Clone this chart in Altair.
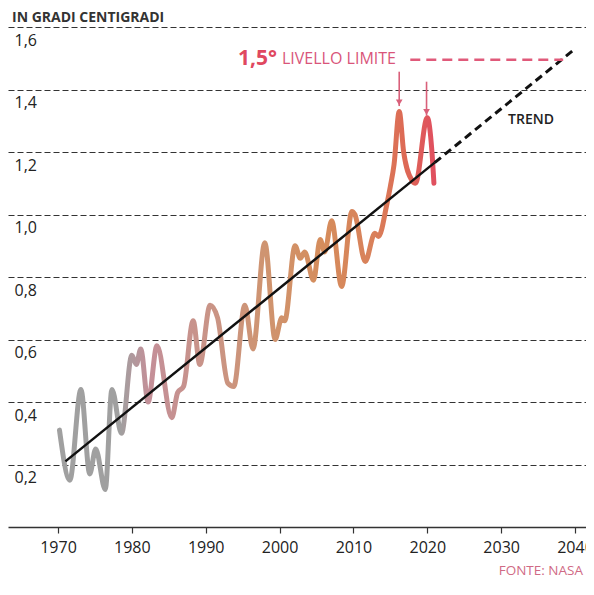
import altair as alt
import pandas as pd

# ---- data ----
years = [1970.2, 1971.6, 1973.1, 1974.3, 1975.1, 1976.4, 1977.3, 1978.6, 1980.0, 1980.6,
         1981.2, 1982.2, 1983.4, 1985.4, 1986.2, 1987.0, 1988.3, 1989.2, 1990.6, 1991.6,
         1993.0, 1993.8, 1995.3, 1996.4, 1998.0, 1999.4, 2000.3, 2000.7, 2002.1, 2002.8,
         2003.4, 2004.6, 2005.5, 2006.1, 2007.05, 2008.4, 2009.8, 2010.2, 2011.6, 2012.9,
         2013.4, 2014.5, 2015.0, 2015.5, 2016.2, 2016.8, 2017.9, 2018.4, 2020.0, 2020.6, 2020.9]
temps = [0.31, 0.15, 0.44, 0.17, 0.25, 0.12, 0.44, 0.30, 0.55, 0.52,
         0.57, 0.40, 0.58, 0.35, 0.43, 0.45, 0.66, 0.52, 0.71, 0.67,
         0.46, 0.45, 0.71, 0.57, 0.91, 0.60, 0.67, 0.66, 0.90, 0.86,
         0.88, 0.79, 0.92, 0.88, 0.98, 0.77, 1.01, 1.00, 0.85, 0.94,
         0.93, 1.03, 1.09, 1.16, 1.33, 1.20, 1.11, 1.10, 1.31, 1.21, 1.10]

trend_solid_years = [1971, 2021]
trend_solid_vals = [0.21, 1.166]
trend_dash_years = [2021, 2040]
trend_dash_vals = [1.166, 1.53]

limit_years = [2017.7, 2038.4]
limit_vals = [1.495, 1.495]

arrow_years = [2016.2, 2019.9]
arrow_tops = [1.457, 1.425]
arrow_tips = [1.347, 1.316]

x_ticks = [1970, 1980, 1990, 2000, 2010, 2020, 2030, 2040]
y_ticks = [0.2, 0.4, 0.6, 0.8, 1.0, 1.2, 1.4, 1.6]

FONT = "Open Sans"
PLOT_H = 500

xs = alt.Scale(domain=[1963.23, 2041.49], nice=False, zero=False)
ys = alt.Scale(domain=[0, 1.6], nice=False, zero=False)

x_axis = alt.Axis(values=x_ticks, format="d", title=None, grid=False,
                  labelFont=FONT, labelFontSize=16, labelColor="#222",
                  domainColor="#333", domainWidth=1.5, tickColor="#333",
                  tickSize=6, tickWidth=1.2, labelPadding=6)
y_axis = alt.Axis(values=y_ticks, title=None, grid=True, gridDash=[6, 3],
                  gridColor="#333", gridWidth=1.2, domain=False, ticks=False,
                  tickSize=0, labelAlign="left", labelPadding=-6,
                  labelBaseline="alphabetic", labelOffset=18, labelFont=FONT,
                  labelFontSize=16, labelColor="#222",
                  labelExpr="replace(format(datum.value, '.1f'), '.', ',')")

X = alt.X("year:Q", scale=xs, axis=x_axis)
Y = alt.Y("val:Q", scale=ys, axis=y_axis)

temp_df = pd.DataFrame({"year": years, "val": temps})
trend_solid_df = pd.DataFrame({"year": trend_solid_years, "val": trend_solid_vals})
trend_dash_df = pd.DataFrame({"year": trend_dash_years, "val": trend_dash_vals})
limit_df = pd.DataFrame({"year": limit_years, "val": limit_vals})
arrow_df = pd.DataFrame({"year": arrow_years, "val": arrow_tops, "val2": arrow_tips,
                         "head": [t + 0.012 for t in arrow_tips]})

grad = alt.Gradient(
    gradient="linear", x1=0, x2=1, y1=0, y2=0,
    stops=[
        alt.GradientStop(color="#a0a0a0", offset=0.0),
        alt.GradientStop(color="#a0a0a0", offset=0.16),
        alt.GradientStop(color="#c48f98", offset=0.24),
        alt.GradientStop(color="#c99487", offset=0.40),
        alt.GradientStop(color="#cf9470", offset=0.55),
        alt.GradientStop(color="#d58d5c", offset=0.70),
        alt.GradientStop(color="#d9805a", offset=0.84),
        alt.GradientStop(color="#dd6a55", offset=0.92),
        alt.GradientStop(color="#e0505f", offset=1.0),
    ],
)

temp_line = alt.Chart(temp_df).mark_line(
    stroke=grad, strokeWidth=5, interpolate="monotone", strokeCap="round", strokeJoin="round"
).encode(x=X, y=Y)

trend_solid = alt.Chart(trend_solid_df).mark_line(color="#111", strokeWidth=2.5).encode(x=X, y=Y)
trend_dash = alt.Chart(trend_dash_df).mark_line(color="#111", strokeWidth=3, strokeDash=[8, 5]).encode(x=X, y=Y)

limit_line = alt.Chart(limit_df).mark_line(color="#e05a7a", strokeWidth=2.5, strokeDash=[10, 6]).encode(x=X, y=Y)

arrow_rules = alt.Chart(arrow_df).mark_rule(color="#d9607a", strokeWidth=1.6).encode(
    x=X, y=Y, y2="val2:Q")
arrow_heads = alt.Chart(arrow_df).mark_point(
    shape="triangle-down", filled=True, color="#d9607a", size=45, opacity=1
).encode(x=X, y=alt.Y("head:Q", scale=ys, axis=y_axis))

lbl15 = alt.Chart(pd.DataFrame({"year": [1994.37], "val": [1.479], "t": ["1,5°"]})).mark_text(
    align="left", baseline="alphabetic", font=FONT, fontSize=21, fontWeight="bold", color="#e0485f"
).encode(x=X, y=Y, text="t:N")
lbl_lim = alt.Chart(pd.DataFrame({"year": [2000.33], "val": [1.482], "t": ["LIVELLO LIMITE"]})).mark_text(
    align="left", baseline="alphabetic", font=FONT, fontSize=16, color="#d9557a"
).encode(x=X, y=Y, text="t:N")
lbl_trend = alt.Chart(pd.DataFrame({"year": [2034.04], "val": [1.303], "t": ["TREND"]})).mark_text(
    align="center", baseline="middle", font=FONT, fontSize=14, fontWeight=600, color="#222"
).encode(x=X, y=Y, text="t:N")

title = alt.Chart(pd.DataFrame({"t": ["IN GRADI CENTIGRADI"]})).mark_text(
    align="left", baseline="alphabetic", font=FONT, fontSize=14, fontWeight="bold", color="#333"
).encode(x=alt.value(4), y=alt.value(-5), text="t:N")
source = alt.Chart(pd.DataFrame({"t": ["FONTE: NASA"]})).mark_text(
    align="right", baseline="alphabetic", font=FONT, fontSize=13.5, color="#d06a85"
).encode(x=alt.value(575), y=alt.value(PLOT_H + 48), text="t:N")

chart = alt.layer(
    temp_line, trend_solid, trend_dash, limit_line, arrow_rules, arrow_heads,
    lbl15, lbl_lim, lbl_trend, title, source
).properties(
    width=578, height=PLOT_H,
    autosize=alt.AutoSizeParams(type="none"),
    padding={"left": 0, "top": 19, "right": 0, "bottom": 52},
    background="white",
).configure_view(stroke=None)

chart.save("out.html", embed_options={"renderer": "svg", "actions": False})
